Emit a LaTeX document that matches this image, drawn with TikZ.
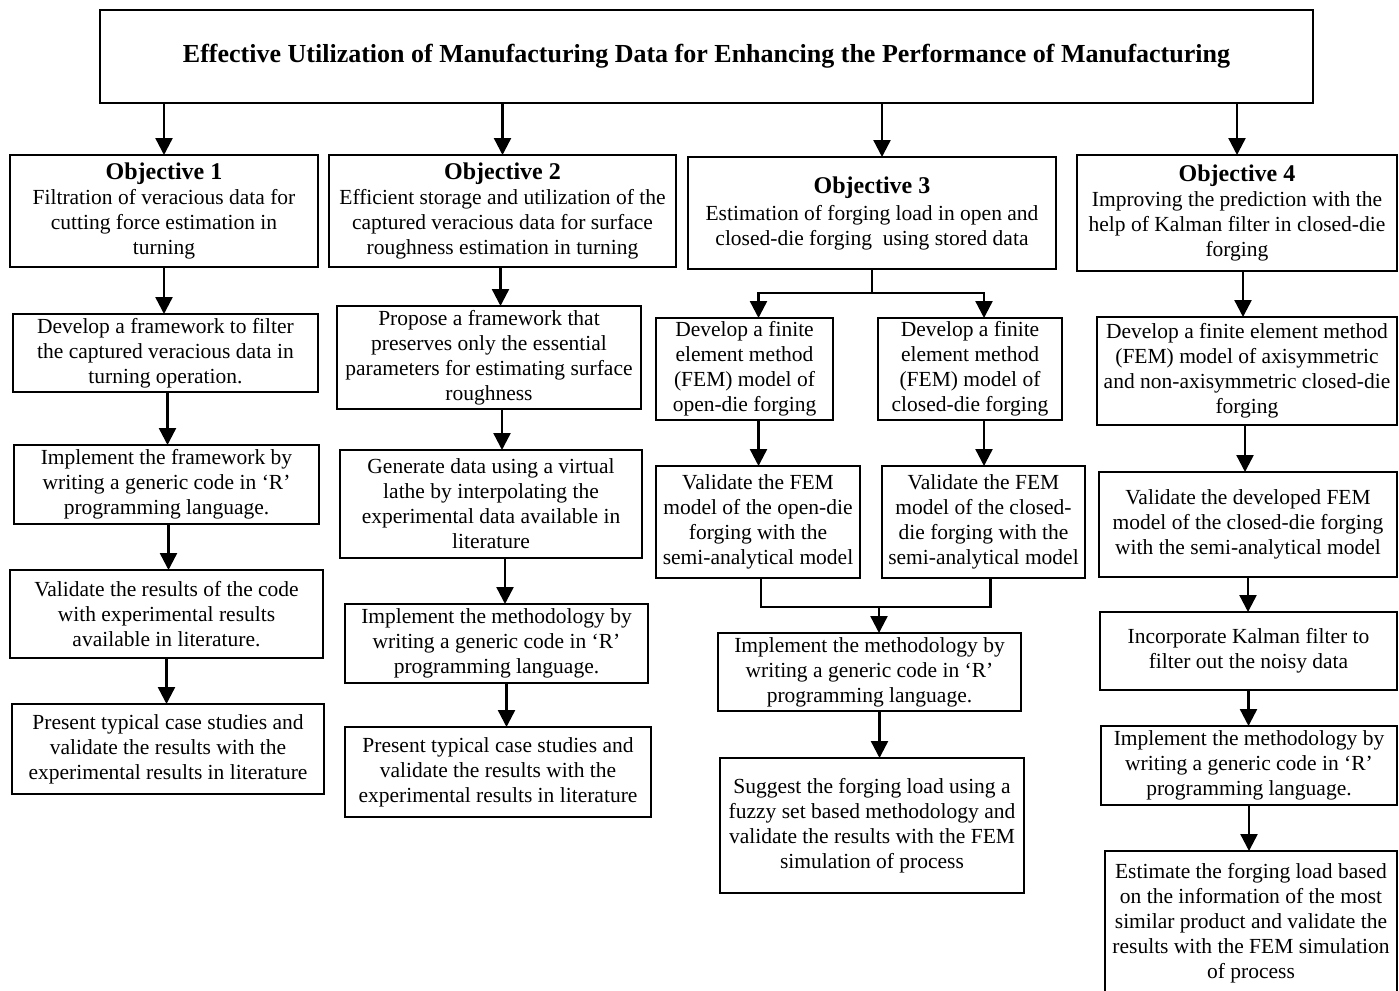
\documentclass[tikz,border=0pt]{standalone}
\usepackage{fontspec}
\setmainfont{Liberation Serif}
\usetikzlibrary{arrows.meta}
\tikzset{
  box/.style={draw, line width=2.4pt, inner sep=0pt, outer sep=0pt, align=center,
    font=\fontsize{21.5}{25}\selectfont},
  link/.style={line width=2.4pt},
  arr/.style={line width=2.4pt, -{Triangle[length=17pt,width=17pt]}},
}
% box from (x1,y1) to (x2,y2) in pixel-like units, y growing downwards
\newcommand\flowbox[6]{%
  \node[box, minimum width={#4-#2}, minimum height={#5-#3}] (#1)
    at ({(#2+#4)/2},{(#3+#5)/2}) {#6};}
\newcommand\objhead[1]{{\bfseries\fontsize{24}{25}\selectfont #1}}
\begin{document}
\begin{tikzpicture}[x=1pt,y=-1pt]
\useasboundingbox (0,0) rectangle (1399,990);
\clip (0,0) rectangle (1399,990);

% main goal
\flowbox{title}{100}{10}{1313}{103}{\bfseries\fontsize{26}{28}\selectfont\raisebox{-3pt}{Effective Utilization of Manufacturing Data for Enhancing the Performance of Manufacturing}}

% objectives
\flowbox{obj1}{10}{155}{318}{267}{\objhead{Objective 1}\\Filtration of veracious data for\\cutting force estimation in\\turning}
\flowbox{obj2}{329}{155}{676}{267}{\objhead{Objective 2}\\Efficient storage and utilization of the\\captured veracious data for surface\\roughness estimation in turning}
\flowbox{obj3}{688}{157}{1056}{269}{\objhead{Objective 3}\\[2pt]Estimation of forging load in open and\\closed-die forging\ \ using stored data}
\flowbox{obj4}{1077}{155}{1397}{271}{\objhead{Objective 4}\\Improving the prediction with the\\help of Kalman filter in closed-die\\forging}

% column 1
\flowbox{a1}{13}{314}{318}{392}{Develop a framework to filter\\the captured veracious data in\\turning operation.}
\flowbox{a2}{14}{445}{319}{524}{Implement the framework by\\writing a generic code in ‘R’\\programming language.}
\flowbox{a3}{10}{570}{323}{658}{Validate the results of the code\\with experimental results\\available in literature.}
\flowbox{a4}{12}{704}{324}{794}{Present typical case studies and\\validate the results with the\\experimental results in literature}

% column 2
\flowbox{b1}{337}{306}{641}{409}{Propose a framework that\\preserves only the essential\\parameters for estimating surface\\roughness}
\flowbox{b2}{340}{450}{642}{558}{Generate data using a virtual\\lathe by interpolating the\\experimental data available in\\literature}
\flowbox{b3}{345}{604}{648}{683}{Implement the methodology by\\writing a generic code in ‘R’\\programming language.}
\flowbox{b4}{345}{727}{651}{817}{Present typical case studies and\\validate the results with the\\experimental results in literature}

% column 3
\flowbox{c1}{656}{318}{833}{420}{Develop a finite\\element method\\(FEM) model of\\open-die forging}
\flowbox{c2}{878}{318}{1062}{420}{Develop a finite\\element method\\(FEM) model of\\closed-die forging}
\flowbox{c3}{656}{466}{860}{578}{Validate the FEM\\model of the open-die\\forging with the\\semi-analytical model}
\flowbox{c4}{882}{466}{1085}{578}{Validate the FEM\\model of the closed-\\die forging with the\\semi-analytical model}
\flowbox{c5}{718}{633}{1021}{711}{Implement the methodology by\\writing a generic code in ‘R’\\programming language.}
\flowbox{c6}{720}{758}{1024}{893}{Suggest the forging load using a\\fuzzy set based methodology and\\validate the results with the FEM\\simulation of process}

% column 4
\flowbox{d1}{1097}{317}{1397}{425}{Develop a finite element method\\(FEM) model of axisymmetric\\and non-axisymmetric closed-die\\forging}
\flowbox{d2}{1099}{472}{1397}{577}{Validate the developed FEM\\model of the closed-die forging\\with the semi-analytical model}
\flowbox{d3}{1100}{612}{1397}{690}{Incorporate Kalman filter to\\filter out the noisy data}
\flowbox{d4}{1101}{726}{1397}{805}{Implement the methodology by\\writing a generic code in ‘R’\\programming language.}
\flowbox{d5}{1105}{851}{1397}{995}{Estimate the forging load based\\on the information of the most\\similar product and validate the\\results with the FEM simulation\\of process}

% goal to objectives
\draw[arr] (title.south -| obj1.north) -- (obj1.north);
\draw[arr] (title.south -| obj2.north) -- (obj2.north);
\draw[arr] ([xshift=10pt]title.south -| obj3.north) -- ([xshift=10pt]obj3.north);
\draw[arr] (title.south -| obj4.north) -- (obj4.north);

% column 1 chain
\draw[arr] (obj1.south) -- (obj1.south |- a1.north);
\draw[arr] ([xshift=2pt]a1.south) -- ([xshift=2pt]a1.south |- a2.north);
\draw[arr] ([xshift=2pt]a2.south) -- ([xshift=2pt]a2.south |- a3.north);
\draw[arr] (a3.south) -- (a3.south |- a4.north);

% column 2 chain
\draw[arr] ([xshift=-2pt]obj2.south) -- ([xshift=-2pt]obj2.south |- b1.north);
\draw[arr] ([xshift=13pt]b1.south) -- ([xshift=13pt]b1.south |- b2.north);
\draw[arr] ([xshift=14pt]b2.south) -- ([xshift=14pt]b2.south |- b3.north);
\draw[arr] ([xshift=10pt]b3.south) -- ([xshift=10pt]b3.south |- b4.north);

% column 3: fork, two branches, merge
\coordinate (fork) at (872,293);
\draw[link] (obj3.south) -- (fork);
\draw[arr] (fork) -| ([xshift=14pt]c1.north);
\draw[arr] (fork) -| ([xshift=14pt]c2.north);
\draw[arr] ([xshift=14pt]c1.south) -- ([xshift=14pt]c1.south |- c3.north);
\draw[arr] ([xshift=14pt]c2.south) -- ([xshift=14pt]c2.south |- c4.north);
\coordinate (merge) at (879,607);
\draw[link] ([xshift=3pt]c3.south) |- (merge);
\draw[link] ([xshift=7pt]c4.south) |- (merge);
\draw[arr] (merge) -- (merge |- c5.north);
\draw[arr] ([xshift=10pt]c5.south) -- ([xshift=10pt]c5.south |- c6.north);

% column 4 chain
\draw[arr] ([xshift=6pt]obj4.south) -- ([xshift=6pt]obj4.south |- d1.north);
\draw[arr] ([xshift=-2pt]d1.south) -- ([xshift=-2pt]d1.south |- d2.north);
\draw[arr] (d2.south) -- (d2.south |- d3.north);
\draw[arr] (d3.south) -- (d3.south |- d4.north);
\draw[arr] (d4.south) -- (d4.south |- d5.north);
\end{tikzpicture}
\end{document}
